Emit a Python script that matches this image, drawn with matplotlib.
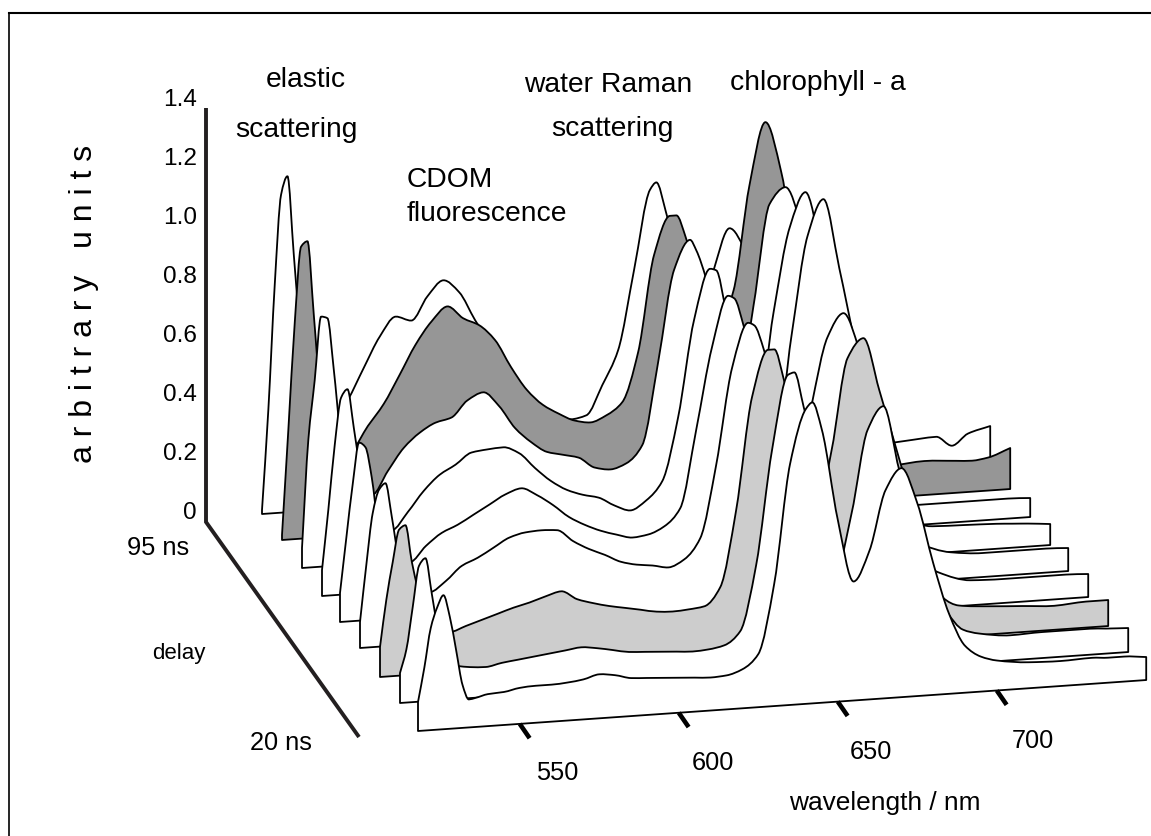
import matplotlib
matplotlib.use("Agg")
import matplotlib.pyplot as plt
import numpy as np
from matplotlib.patches import PathPatch
from matplotlib.path import Path
from matplotlib.transforms import Affine2D

plt.rcParams["font.family"] = ["Liberation Sans", "DejaVu Sans"]

# wavelength grid (nm) shared by all spectra
wavelength = [518, 520, 522, 524, 526, 528, 530, 532, 534, 536,
              540, 545, 550, 555, 560, 565, 570, 575, 580, 585, 590, 595, 600, 605, 610,
              615, 620, 625, 630,
              635, 640, 642, 645, 650, 655, 660, 665, 670, 675, 680, 685, 690, 695, 700,
              710, 720, 730, 735, 740, 747]

# signal counts per delay slice (296 counts = 1 arbitrary unit), back (95 ns) to front (20 ns)
slice_1 = [4, 104, 228, 318, 336, 257, 181, 131, 110, 95,
           84, 108, 139, 169, 188, 183, 206, 221, 208, 179, 153, 127, 106, 90, 80, 73, 76, 105, 139,
           218, 297, 304, 274, 205, 153, 212, 253, 230, 189, 138, 97, 66, 50, 38,
           26, 28, 30, 20, 31, 37]
slice_2 = [5, 110, 216, 292, 297, 223, 147, 117, 95, 88,
           87, 108, 129, 157, 186, 208, 222, 209, 201, 185, 157, 133, 117, 107, 99, 96, 102, 114, 163,
           259, 297, 297, 274, 211, 179, 218, 322, 384, 333, 234, 153, 102, 71, 50,
           32, 34, 32, 31, 33, 41]
slice_3 = [20, 128, 187, 250, 248, 196, 135, 105, 84, 74,
           68, 91, 113, 127, 136, 140, 156, 163, 148, 125, 110, 99, 95, 91, 80, 77, 82, 99, 181,
           272, 301, 290, 262, 194, 147, 231, 331, 347, 308, 232, 161, 100, 59, 38,
           20, 20, 20, 20, 20, 19]
slice_4 = [26, 86, 150, 197, 205, 166, 123, 83, 67, 62,
           61, 78, 98, 113, 122, 133, 135, 136, 129, 113, 99, 89, 83, 79, 70, 64, 73, 91, 154,
           250, 300, 298, 258, 187, 155, 252, 335, 370, 311, 240, 159, 88, 52, 38,
           27, 26, 25, 24, 23, 21]
slice_5 = [29, 84, 137, 178, 173, 142, 95, 78, 68, 62,
           55, 70, 82, 89, 98, 107, 116, 121, 113, 102, 89, 80, 73, 68, 64, 66, 73, 90, 167,
           249, 299, 296, 267, 198, 151, 255, 353, 389, 319, 240, 150, 80, 48, 38,
           27, 24, 24, 24, 24, 23]
slice_6 = [26, 83, 134, 157, 163, 129, 90, 70, 58, 52,
           51, 61, 75, 82, 91, 100, 104, 105, 104, 92, 83, 76, 68, 64, 62, 59, 66, 86, 158,
           254, 298, 295, 270, 199, 127, 211, 278, 301, 263, 192, 121, 70, 46, 35,
           25, 24, 24, 24, 24, 23]
slice_7 = [30, 77, 114, 146, 150, 113, 84, 59, 45, 41,
           40, 45, 50, 55, 60, 64, 69, 73, 64, 59, 55, 52, 49, 46, 45, 46, 48, 66, 142,
           254, 300, 300, 269, 193, 131, 195, 286, 305, 252, 196, 140, 84, 40, 31,
           28, 26, 24, 25, 26, 26]
slice_8 = [30, 53, 95, 136, 143, 107, 70, 45, 34, 33,
           31, 30, 33, 35, 37, 39, 41, 43, 41, 38, 35, 34, 33, 32, 31, 32, 35, 48, 113,
           227, 301, 303, 267, 204, 100, 158, 240, 263, 198, 147, 91, 53, 34, 29,
           25, 26, 26, 26, 25, 24]
slice_9 = [29, 63, 102, 122, 134, 112, 78, 43, 28, 29,
           32, 33, 36, 37, 37, 38, 40, 44, 42, 38, 37, 36, 35, 34, 33, 34, 39, 53, 122,
           241, 295, 301, 273, 182, 119, 149, 208, 229, 193, 132, 80, 47, 35, 30,
           26, 25, 26, 25, 25, 23]
spectra = [slice_1, slice_2, slice_3, slice_4, slice_5, slice_6, slice_7, slice_8, slice_9]

intensity_ticks = [0, 0.2, 0.4, 0.6, 0.8, 1.0, 1.2, 1.4]
intensity_labels = ["0", "0.2", "0.4", "0.6", "0.8", "1.0", "1.2", "1.4"]
wavelength_ticks = [550, 600, 650, 700]

# page layout
W, H = 1151, 836
SLICE_X = [262, 282, 302, 322, 340, 360, 380, 400, 418]
SLICE_Y = [514, 540, 568, 596, 622, 648, 677, 703, 731]
SLICE_FILL = ["white", "#969696", "white", "white", "white", "white", "#cdcdcd", "white", "white"]
PX_PER_NM = 3.18
RISE_PER_NM = 0.2226
L0 = 518

fig = plt.figure(figsize=(W / 100, H / 100), dpi=100, facecolor="white")
ax = fig.add_axes([0, 0, 1, 1])
ax.set_xlim(0, W)
ax.set_ylim(H, 0)
ax.axis("off")


def slice_transform(x0, y0):
    return Affine2D.from_values(PX_PER_NM, -RISE_PER_NM, 0, -1,
                                x0 - PX_PER_NM * L0, y0 + RISE_PER_NM * L0) + ax.transData


def spectrum_path(lam, sig):
    """Closed outline through every reading, rounded with monotone Bezier segments."""
    x = np.asarray(lam, float)
    y = np.asarray(sig, float)
    h = np.diff(x)
    d = np.diff(y) / h
    m = np.zeros_like(y)
    for i in range(1, len(y) - 1):
        if d[i - 1] * d[i] > 0:
            w1, w2 = 2 * h[i] + h[i - 1], h[i] + 2 * h[i - 1]
            m[i] = (w1 + w2) / (w1 / d[i - 1] + w2 / d[i])
    m[0], m[-1] = d[0], d[-1]
    verts = [(x[0], 0), (x[0], y[0])]
    codes = [Path.MOVETO, Path.LINETO]
    for i in range(len(h)):
        verts += [(x[i] + h[i] / 3, y[i] + m[i] * h[i] / 3),
                  (x[i + 1] - h[i] / 3, y[i + 1] - m[i + 1] * h[i] / 3),
                  (x[i + 1], y[i + 1])]
        codes += [Path.CURVE4] * 3
    verts += [(x[-1], 0), (x[0], 0)]
    codes += [Path.LINETO, Path.CLOSEPOLY]
    return Path(verts, codes)


for i, values in enumerate(spectra):
    tr = slice_transform(SLICE_X[i], SLICE_Y[i])
    ax.add_patch(PathPatch(spectrum_path(wavelength, values), facecolor=SLICE_FILL[i],
                           edgecolor="black", linewidth=1.3, joinstyle="round",
                           transform=tr, zorder=10 + i))

# wavelength ticks below the front baseline
front = slice_transform(SLICE_X[-1], SLICE_Y[-1])
for t in wavelength_ticks:
    ax.plot([t, t + 3.1], [0, -15], color="black", lw=3.3, transform=front,
            solid_capstyle="butt", zorder=30)

# intensity and delay axes
AXIS = "#231f20"
ax.plot([206, 206, 359], [108, 522, 737], color=AXIS, lw=2.8, solid_joinstyle="miter",
        solid_capstyle="butt", zorder=5)

LBL = 17.6
TXT = 20.3
for v, s in zip(intensity_ticks, intensity_labels):
    ax.text(197, 513 - v * 295, s, ha="right", va="center", fontsize=LBL)

ax.text(84, 304, "a r b i t r a r y   u n i t s", rotation=90, ha="center", va="center", fontsize=23)

ax.text(306, 80, "elastic", ha="center", va="center", fontsize=TXT)
ax.text(296, 130, "scattering", ha="center", va="center", fontsize=TXT)
ax.text(608, 85, "water Raman", ha="center", va="center", fontsize=TXT)
ax.text(612, 129, "scattering", ha="center", va="center", fontsize=TXT)
ax.text(818, 83, "chlorophyll - a", ha="center", va="center", fontsize=TXT)
ax.text(407, 180, "CDOM", ha="left", va="center", fontsize=TXT)
ax.text(407, 214, "fluorescence", ha="left", va="center", fontsize=TXT)
ax.text(158, 548, "95 ns", ha="center", va="center", fontsize=18.3)
ax.text(179, 653, "delay", ha="center", va="center", fontsize=16)
ax.text(281, 743, "20 ns", ha="center", va="center", fontsize=18.3)
for t, (lx, ly) in zip(wavelength_ticks, [(557, 773), (713, 763), (871, 752), (1033, 741)]):
    ax.text(lx, ly, str(t), ha="center", va="center", fontsize=18.3)
ax.text(884.5, 803, "wavelength / nm", ha="center", va="center", fontsize=18.9)

# page frame: top and left rules only
ax.plot([9, 9], [13, H], color="black", lw=1.2, zorder=40)
ax.plot([9, W], [13, 13], color="black", lw=1.5, zorder=40)

fig.savefig("out.png", dpi=100)
